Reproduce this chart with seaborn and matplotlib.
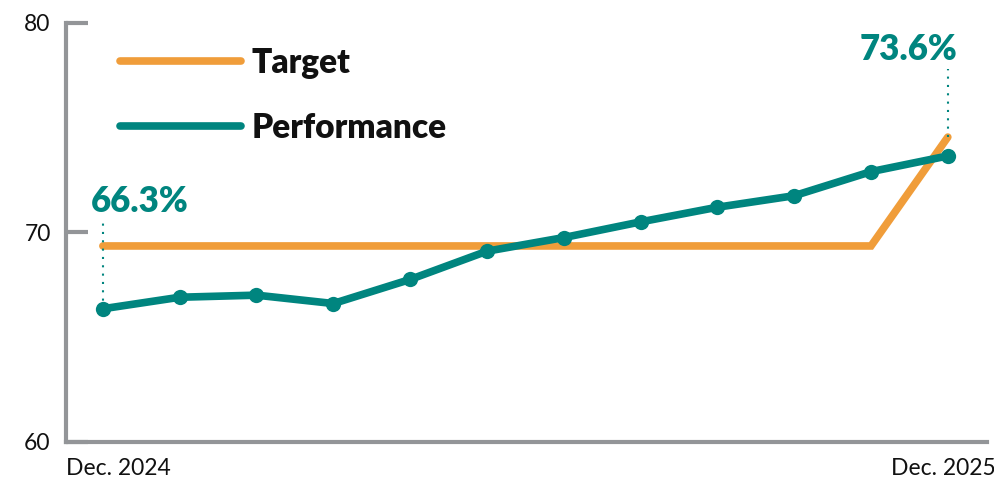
import matplotlib
matplotlib.use("Agg")
import matplotlib.pyplot as plt
import matplotlib.transforms as mtransforms
from matplotlib.lines import Line2D
import seaborn as sns
import pandas as pd

months = list(range(12))
target = [69.35, 69.35, 69.35, 69.35, 69.35, 69.35, 69.35, 69.35, 69.35, 69.35, 69.35, 74.55]
performance = [66.35, 66.9, 67.0, 66.6, 67.75, 69.1, 69.75, 70.5, 71.2, 71.75, 72.9, 73.65]
x_labels = ["Dec. 2024", "Dec. 2025"]
y_ticks = [60, 70, 80]
first_label = "66.3%"
last_label = "73.6%"

ORANGE = "#F09D3A"
TEAL = "#00857F"
GREY = "#939598"
INK = "#111111"

sns.set_style("white")
plt.rcParams["font.family"] = ["Lato", "DejaVu Sans"]

df = pd.DataFrame({
    "month": months * 2,
    "value": target + performance,
    "series": ["Target"] * 12 + ["Performance"] * 12,
})

fig = plt.figure(figsize=(9.95, 4.82), dpi=100)
ax = fig.add_axes([66 / 995, (482 - 441.7) / 482, (987 - 66) / 995, (441.7 - 23) / 482])

sns.lineplot(data=df[df.series == "Target"], x="month", y="value", ax=ax,
             color=ORANGE, linewidth=5.5, legend=False, solid_capstyle="round",
             solid_joinstyle="miter")
sns.lineplot(data=df[df.series == "Performance"], x="month", y="value", ax=ax,
             color=TEAL, linewidth=5.5, marker="o", markersize=11,
             markeredgewidth=0, legend=False, solid_capstyle="round")

ax.set_xlim(-0.48, 11.51)
ax.set_ylim(60, 80)
ax.set_yticks(y_ticks)
ax.set_yticklabels([str(v) for v in y_ticks], fontsize=16.5, color=INK)
ax.set_xticks([])
ax.set_xlabel("")
ax.set_ylabel("")

for s in ["top", "right"]:
    ax.spines[s].set_visible(False)
for s in ["left", "bottom"]:
    ax.spines[s].set_color(GREY)
    ax.spines[s].set_linewidth(3)
ax.spines["left"].set_capstyle("projecting")
ax.tick_params(axis="y", direction="in", length=16, width=3, color=GREY, pad=11, left=True)

# x labels
trans = mtransforms.blended_transform_factory(ax.transAxes, ax.transData)
ax.text(0.0, 58.4, x_labels[0], transform=trans, ha="left", va="baseline", fontsize=16.5, color=INK)
ax.text(1.009, 58.4, x_labels[1], transform=trans, ha="right", va="baseline", fontsize=16.5, color=INK)

# annotations
ax.plot([months[0], months[0]], [performance[0], 70.55], color=TEAL, linestyle=(0, (1, 3)), linewidth=1.5)
ax.text(months[0] - 0.16, 70.97, first_label, ha="left", va="baseline", fontsize=25,
        fontweight="heavy", color=TEAL)
ax.plot([months[-1], months[-1]], [target[-1], 77.8], color=TEAL, linestyle=(0, (1, 3)), linewidth=1.5)
ax.text(months[-1] + 0.12, 78.23, last_label, ha="right", va="baseline", fontsize=25,
        fontweight="heavy", color=TEAL)

handles = [Line2D([], [], color=ORANGE, linewidth=5.5, solid_capstyle="round"),
           Line2D([], [], color=TEAL, linewidth=5.5, solid_capstyle="round")]
leg = ax.legend(handles, ["Target", "Performance"], loc="upper left",
                bbox_to_anchor=(0.026, 1.015), frameon=False, handlelength=3.63,
                handletextpad=0.32, labelspacing=1.0, labelcolor=INK,
                prop={"size": 24, "weight": "heavy", "family": ["Lato", "DejaVu Sans"]})

fig.savefig("out.png", dpi=100)
